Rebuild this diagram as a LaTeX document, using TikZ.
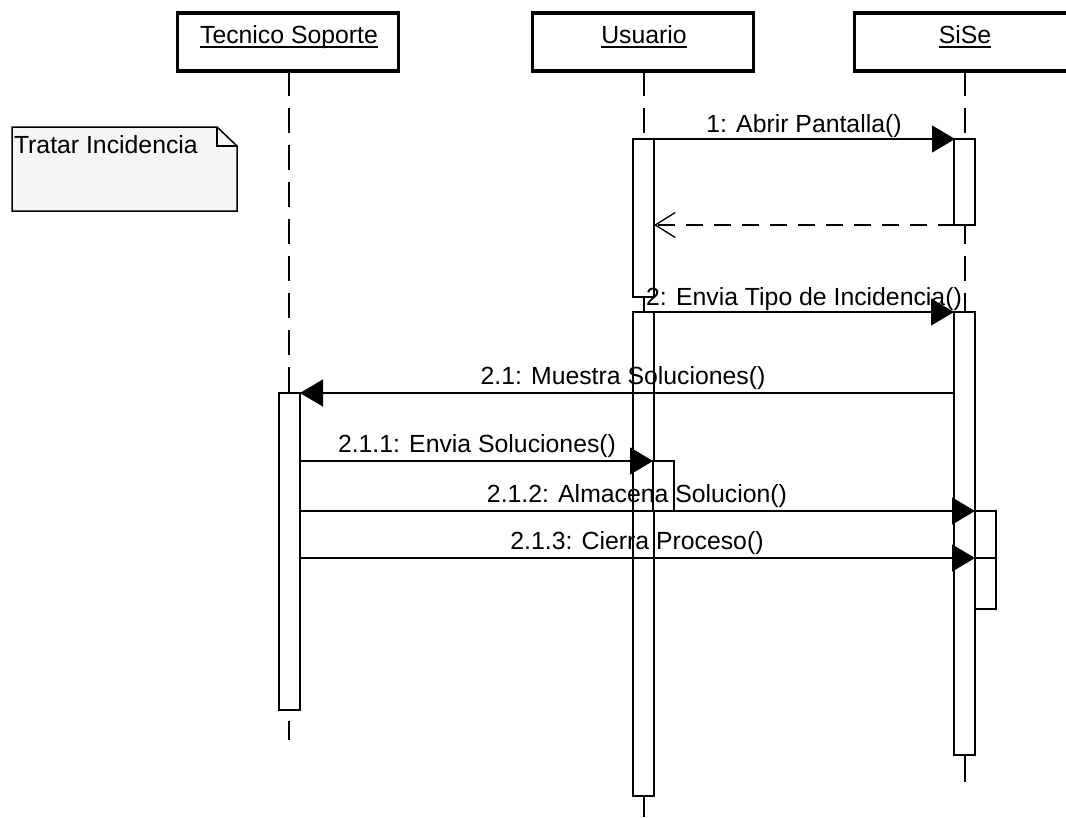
\documentclass[tikz,border=0pt]{standalone}
\usepackage{fontspec}
\setmainfont{Liberation Sans}
\usetikzlibrary{arrows.meta}

\definecolor{notefill}{RGB}{245,245,245}

\begin{document}
\begin{tikzpicture}[x=1pt,y=-1pt,
  every node/.style={font=\fontsize{24.8}{28}\selectfont, inner sep=0pt, outer sep=0pt},
  headbox/.style={draw, line width=3.4pt, fill=white, rectangle, minimum width=221pt, minimum height=58pt},
  lifeline/.style={line width=1.3pt, dash pattern=on 25pt off 12pt},
  tail/.style={line width=1.3pt},
  actbox/.style={draw, line width=1.5pt, fill=white},
  msg/.style={line width=1.3pt, -{Triangle[length=23pt,width=27pt]}},
  reply/.style={line width=1.3pt, dash pattern=on 17pt off 11pt,
    -{Straight Barb[length=20pt,width=25pt,line width=1.3pt]}},
  lbl/.style={anchor=base},
  ulined/.style={line width=1.5pt}
]
\useasboundingbox (0,0) rectangle (1066,817);
\clip (0,0) rectangle (1066,817);

% lifelines
\coordinate (lT0) at (289,71);  \coordinate (lT1) at (289,393);
\coordinate (lU0) at (644,71);  \coordinate (lU1) at (644,312);
\coordinate (lS0) at (965,71);  \coordinate (lS1) at (965,312);
\draw[lifeline] (lT0) -- (lT1);
\draw[lifeline] (lU0) -- (lU1);
\draw[lifeline] (lS0) -- (lS1);
\draw[tail] (644,297) -- (644,312);
% lifeline tails below the activation bars
\coordinate (eT0) at (289,721); \coordinate (eT1) at (289,740);
\coordinate (eU0) at (644,796); \coordinate (eU1) at (644,817);
\coordinate (eS0) at (965,755); \coordinate (eS1) at (965,782);
\draw[tail] (eT0) -- (eT1);
\draw[tail] (eU0) -- (eU1);
\draw[tail] (eS0) -- (eS1);

% activation bars
\draw[actbox] (633,139) rectangle (654,297);
\draw[actbox] (633,312) rectangle (654,796);
\draw[actbox] (653,461) rectangle (674,511);
\draw[actbox] (954,139) rectangle (975,225);
\draw[actbox] (954,312) rectangle (975,755);
\draw[actbox] (975,511) rectangle (996,558);
\draw[actbox] (975,558) rectangle (996,609);
\draw[actbox] (279,393) rectangle (300,710);

% lifeline heads
\node[headbox] (hT) at (288,42) {};
\node[headbox] (hU) at (643,42) {};
\node[headbox] (hS) at (965,42) {};
\node[anchor=base] (tT) at (289,43) {Tecnico Soporte};
\node[anchor=base] (tU) at (644,43) {Usuario};
\node[anchor=base] (tS) at (965,43) {SiSe};
\draw[ulined] ([yshift=-4pt]tT.base west) -- ([yshift=-4pt]tT.base east);
\draw[ulined] ([yshift=-4pt]tU.base west) -- ([yshift=-4pt]tU.base east);
\draw[ulined] ([yshift=-4pt]tS.base west) -- ([yshift=-4pt]tS.base east);

% note
\draw[line width=1.5pt, fill=notefill] (12,127) -- (217,127) -- (237,146) -- (237,211) -- (12,211) -- cycle;
\draw[line width=1.3pt] (217,127) -- (217,146) -- (237,146);
\node[anchor=base west] (note) at (14,153) {Tratar Incidencia};

% message end points
\coordinate (m1a) at (654,139); \coordinate (m1b) at (955,139);
\coordinate (r1a) at (955,225); \coordinate (r1b) at (654,225);
\coordinate (m2a) at (654,312); \coordinate (m2b) at (954,312);
\coordinate (m3a) at (955,393); \coordinate (m3b) at (300,393);
\coordinate (m4a) at (300,461); \coordinate (m4b) at (653,461);
\coordinate (m5a) at (300,511); \coordinate (m5b) at (975,511);
\coordinate (m6a) at (300,558); \coordinate (m6b) at (975,558);

% messages
\draw[msg] (m1a) -- (m1b);
\draw[reply] (r1a) -- (r1b);
\draw[msg] (m2a) -- (m2b);
\draw[msg] (m3a) -- (m3b);
\draw[msg] (m4a) -- (m4b);
\draw[msg] (m5a) -- (m5b);
\draw[msg] (m6a) -- (m6b);

% message labels
\node[lbl] (l1) at (804,132) {1: Abrir Pantalla()};
\node[lbl] (l2) at (804,305) {2: Envia Tipo de Incidencia()};
\node[lbl] (l3) at (623,384) {2.1: Muestra Soluciones()};
\node[lbl] (l4) at (477,452) {2.1.1: Envia Soluciones()};
\node[lbl] (l5) at (637,502) {2.1.2: Almacena Solucion()};
\node[lbl] (l6) at (637,549) {2.1.3: Cierra Proceso()};
\end{tikzpicture}
\end{document}
